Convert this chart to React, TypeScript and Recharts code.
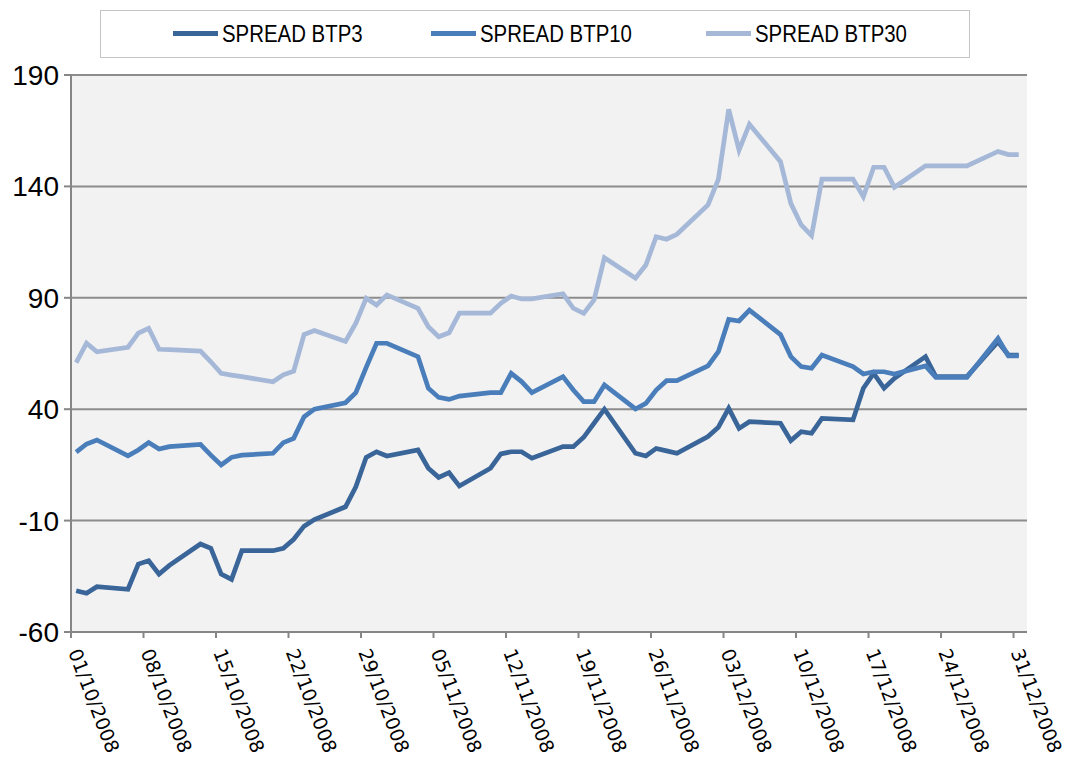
import { LineChart, Line, XAxis, YAxis, CartesianGrid, Legend } from "recharts"

// tick labels on the date axis (one every 7 days)
const tickLabels = [
  "01/10/2008", "08/10/2008", "15/10/2008", "22/10/2008", "29/10/2008", "05/11/2008", "12/11/2008",
  "19/11/2008", "26/11/2008", "03/12/2008", "10/12/2008", "17/12/2008", "24/12/2008", "31/12/2008",
]

// trading days
const dates = [
  "01/10/2008", "02/10/2008", "03/10/2008", "06/10/2008", "07/10/2008", "08/10/2008", "09/10/2008", "10/10/2008",
  "13/10/2008", "14/10/2008", "15/10/2008", "16/10/2008", "17/10/2008", "20/10/2008", "21/10/2008", "22/10/2008",
  "23/10/2008", "24/10/2008", "27/10/2008", "28/10/2008", "29/10/2008", "30/10/2008", "31/10/2008",
  "03/11/2008", "04/11/2008", "05/11/2008", "06/11/2008", "07/11/2008", "10/11/2008", "11/11/2008", "12/11/2008",
  "13/11/2008", "14/11/2008", "17/11/2008", "18/11/2008", "19/11/2008", "20/11/2008", "21/11/2008", "24/11/2008",
  "25/11/2008", "26/11/2008", "27/11/2008", "28/11/2008",
  "01/12/2008", "02/12/2008", "03/12/2008", "04/12/2008", "05/12/2008", "08/12/2008", "09/12/2008", "10/12/2008",
  "11/12/2008", "12/12/2008", "15/12/2008", "16/12/2008", "17/12/2008", "18/12/2008", "19/12/2008", "22/12/2008",
  "23/12/2008", "24/12/2008", "26/12/2008", "29/12/2008", "30/12/2008", "31/12/2008",
]

const btp3 = [
  -41.5, -42.6, -39.7, -40.8, -29.5, -28.0, -34.0, -30.1,
  -20.5, -22.4, -34.0, -36.4, -23.5, -23.5, -22.4, -18.4,
  -12.5, -9.5, -3.8, 5.2, 18.4, 20.9, 19.0,
  21.7, 13.5, 9.4, 11.5, 5.5, 13.5, 19.9, 20.9,
  20.9, 18.0, 23.2, 23.2, 27.4, 33.7, 40.0, 20.2,
  19.0, 22.4, 21.3, 20.2,
  27.7, 31.9, 40.4, 31.4, 34.4, 33.7, 25.9, 29.9,
  29.2, 35.9, 35.2, 49.4, 56.1, 49.4, 53.9, 63.6,
  54.6, 54.6, 54.6, 70.3, 64.3, 64.3,
]

const btp10 = [
  20.7, 24.4, 26.2, 19.1, 21.7, 25.0, 22.1, 23.2,
  24.2, 19.4, 15.0, 18.4, 19.4, 20.2, 25.0, 26.9,
  36.6, 40.0, 42.9, 47.4, 58.8, 69.6, 69.6,
  63.6, 49.4, 45.3, 44.4, 45.9, 47.4, 47.4, 56.1,
  52.4, 47.4, 54.6, 48.6, 43.4, 43.4, 50.9, 40.1,
  42.6, 48.6, 52.8, 52.8,
  59.4, 65.8, 80.3, 79.6, 84.5, 73.5, 63.6, 59.1,
  58.4, 64.3, 59.1, 55.8, 56.8, 56.8, 55.8, 59.4,
  54.3, 54.3, 54.3, 71.8, 63.9, 63.9,
]

const btp30 = [
  60.9, 69.6, 65.8, 67.8, 74.1, 76.3, 66.9, 66.7,
  66.1, 61.3, 56.1, 55.3, 54.6, 52.3, 55.4, 57.1,
  73.5, 75.3, 70.4, 78.6, 89.8, 86.8, 91.3,
  85.3, 77.0, 72.5, 74.3, 83.1, 83.1, 87.5, 90.8,
  89.5, 89.5, 91.8, 85.3, 83.0, 89.0, 108.0, 98.8,
  104.7, 117.4, 116.3, 118.5,
  131.7, 143.2, 174.6, 156.3, 167.9, 151.1, 132.4, 122.7,
  117.9, 143.3, 143.3, 135.4, 148.6, 148.6, 139.6, 149.2,
  149.2, 149.2, 149.2, 155.7, 154.3, 154.3,
]

const yTicks = [-60, -10, 40, 90, 140, 190]

const series = [
  { key: "btp3", name: "SPREAD BTP3", color: "#3a6599" },
  { key: "btp10", name: "SPREAD BTP10", color: "#4a7ebb" },
  { key: "btp30", name: "SPREAD BTP30", color: "#a5b8d7" },
]

// days since 01/10/2008
function dayIndex(s: string) {
  const [d, m, y] = s.split("/").map(Number)
  return (Date.UTC(y, m - 1, d) - Date.UTC(2008, 9, 1)) / 86400000
}

const data = dates.map((s, i) => ({
  day: dayIndex(s) + 0.5,
  btp3: btp3[i],
  btp10: btp10[i],
  btp30: btp30[i],
}))

const xTicks = tickLabels.map(dayIndex)

const AXIS = "#868686"
const LEGEND_X = [72, 330, 605] // item offsets inside the legend box

function DateTick({ x, y, payload }: any) {
  const label = tickLabels[xTicks.indexOf(payload.value)]
  const tx = x - 3
  const ty = y + 12
  return (
    <text
      x={tx}
      y={ty}
      transform={`rotate(69, ${tx}, ${ty})`}
      fontFamily="'DejaVu Sans', sans-serif"
      fontSize={19}
      fill="#000"
      textAnchor="start"
    >
      {label}
    </text>
  )
}

function LegendBox() {
  return (
    <div
      style={{
        position: "relative",
        boxSizing: "border-box",
        width: 870,
        height: 48,
        border: "1.5px solid #c4c4c4",
        background: "#fff",
        fontFamily: "'Liberation Sans', Arial, sans-serif",
        fontSize: 24,
        color: "#000",
      }}
    >
      {series.map((s, i) => (
        <div
          key={s.key}
          style={{ position: "absolute", left: LEGEND_X[i], top: 0, height: 45, display: "flex", alignItems: "center" }}
        >
          <span style={{ display: "inline-block", width: 45, height: 5, background: s.color, marginRight: 4 }} />
          <span style={{ display: "inline-block", transform: "scaleX(0.85)", transformOrigin: "left center", whiteSpace: "nowrap" }}>
            {s.name}
          </span>
        </div>
      ))}
    </div>
  )
}

export default function App() {
  return (
    <div style={{ position: "absolute", left: 0, top: 0, width: 1068, height: 769, background: "#fff" }}>
      <LineChart width={1068} height={769} data={data} margin={{ top: 27, right: 41, left: 0, bottom: 0 }}>
        <CartesianGrid vertical={false} fill="#f2f2f2" stroke="#8c8c8c" strokeWidth={2} />
        <XAxis
          type="number"
          dataKey="day"
          domain={[0, 92.3]}
          ticks={xTicks}
          interval={0}
          height={137}
          stroke={AXIS}
          strokeWidth={2}
          tickSize={6}
          tick={<DateTick />}
        />
        <YAxis
          domain={[-60, 190]}
          ticks={yTicks}
          width={71}
          stroke={AXIS}
          strokeWidth={2}
          tickSize={7}
          tickMargin={5}
          tick={{ fill: "#000", fontSize: 28, fontFamily: "'Liberation Sans', Arial, sans-serif" }}
        />
        <Legend
          verticalAlign="top"
          content={<LegendBox />}
          wrapperStyle={{ position: "absolute", top: 10, left: 100, width: 870, height: 48 }}
        />
        {series.map((s) => (
          <Line
            key={s.key}
            type="linear"
            dataKey={s.key}
            name={s.name}
            stroke={s.color}
            strokeWidth={4.7}
            dot={false}
            isAnimationActive={false}
          />
        ))}
      </LineChart>
    </div>
  )
}
